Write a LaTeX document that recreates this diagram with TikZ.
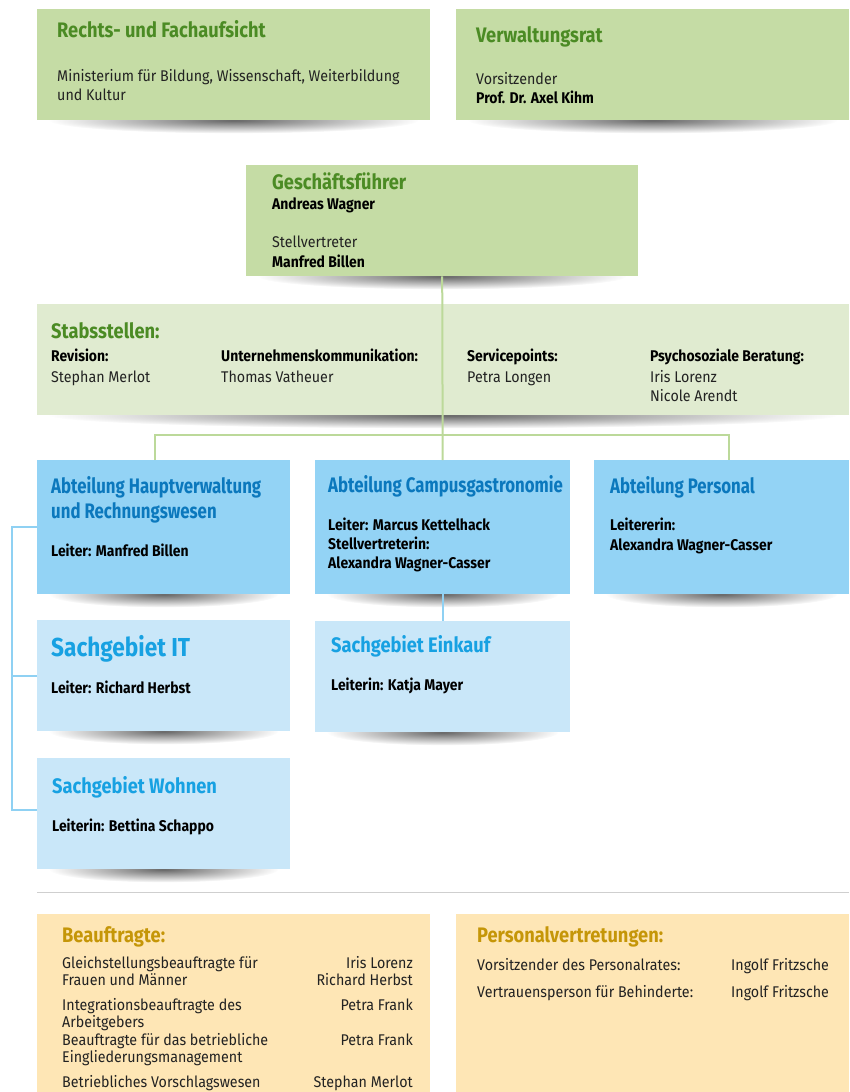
\documentclass[tikz,border=0pt]{standalone}
\usepackage{fontspec}
\setmainfont{Fira Sans}
\newfontfamily\orghead[FakeStretch=0.87]{Fira Sans}
\newfontfamily\orgheadn[FakeStretch=0.8]{Fira Sans}
\newfontfamily\orgname[FakeStretch=0.9]{Fira Sans}
\newfontfamily\orgbody[FakeStretch=0.92]{Fira Sans}
\usetikzlibrary{positioning,calc,backgrounds,fadings}
\definecolor{gfill}{HTML}{C5DCA5}
\definecolor{gtitle}{HTML}{4B8B24}
\definecolor{stabfill}{HTML}{E0EBD0}
\definecolor{gline}{HTML}{BCD99A}
\definecolor{bfill}{HTML}{93D3F5}
\definecolor{btitle}{HTML}{0B78BD}
\definecolor{sfill}{HTML}{C9E7F9}
\definecolor{stitle}{HTML}{17A1E2}
\definecolor{bline}{HTML}{8FD1F3}
\definecolor{ofill}{HTML}{FEE6B5}
\definecolor{otitle}{HTML}{C59608}
\definecolor{sepgray}{HTML}{CFCFCF}
\definecolor{bodytext}{HTML}{222222}
\tikzfading[name=shadowfade, inner color=transparent!40, outer color=transparent!100]
\tikzset{
	box/.style 2 args={rectangle,anchor=north west,inner sep=0pt,minimum width=#1pt,minimum height=#2pt},
	gbox/.style={fill=gfill},
	stabbox/.style={fill=stabfill},
	bbox/.style={fill=bfill},
	sbox/.style={fill=sfill},
	obox/.style={fill=ofill},
	titel/.style={anchor=base west,inner sep=0pt,font=\orghead\bfseries\fontsize{21}{24}\selectfont},
	gtitel/.style={titel,text=gtitle},
	btitel/.style={titel,text=btitle,font=\orgheadn\bfseries\fontsize{21}{24}\selectfont},
	stitel/.style={titel,text=stitle},
	otitel/.style={titel,text=otitle},
	info/.style={anchor=base west,inner sep=0pt,font=\orgbody\fontsize{15.5}{18}\selectfont,text=bodytext},
	infor/.style={info,anchor=base east},
	person/.style={anchor=base west,inner sep=0pt,font=\orgname\bfseries\fontsize{15.5}{18}\selectfont,text=black},
	gconn/.style={draw=gline,line width=2pt},
	bconn/.style={draw=bline,line width=2pt}
}
\begin{document}
\begin{tikzpicture}[x=1pt,y=-1pt]
	\useasboundingbox (0,0) rectangle (849,1092);
	% Aufsicht und Verwaltungsrat
	\node[box={393}{111},gbox] (aufsicht) at (37,9) {};
	\node[box={393}{111},gbox] (vrat) at (456,9) {};
	\node[gtitel] (auft) at (57,37) {Rechts- und Fachaufsicht};
	\node[info] (min) at (57,81) {Ministerium für Bildung, Wissenschaft, Weiterbildung};
	\node[info] (kul) at (57,100) {und Kultur};
	\node[gtitel] (vratt) at (476,42) {Verwaltungsrat};
	\node[info] (vors) at (476,84) {Vorsitzender};
	\node[person] (kihm) at (476,103) {Prof. Dr. Axel Kihm};

	% Geschaeftsfuehrung
	\node[box={392}{111},gbox] (gf) at (246,165) {};
	\node[gtitel] (gft) at (272,189) {Geschäftsführer};
	\node[person] (wagner) at (272,209) {Andreas Wagner};
	\node[info] (stv) at (272,247) {Stellvertreter};
	\node[person] (billen) at (272,267) {Manfred Billen};

	% Stabsstellen
	\node[box={812}{111},stabbox] (stab) at (37,304) {};
	\node[gtitel] (stabt) at (51,338) {Stabsstellen:};
	\node[person] (rev) at (51,361) {Revision:};
	\node[info] (merlot) at (51,382) {Stephan Merlot};
	\node[person] (uk) at (221,361) {Unternehmenskommunikation:};
	\node[info] (vatheuer) at (221,382) {Thomas Vatheuer};
	\node[person] (sp) at (467,361) {Servicepoints:};
	\node[info] (longen) at (467,382) {Petra Longen};
	\node[person] (psb) at (650,361) {Psychosoziale Beratung:};
	\node[info] (lorenz) at (650,382) {Iris Lorenz};
	\node[info] (arendt) at (650,401) {Nicole Arendt};

	% Abteilungen
	\node[box={253}{134},bbox] (haupt) at (37,460) {};
	\node[box={255}{134},bbox] (campus) at (315,460) {};
	\node[box={255}{134},bbox] (personal) at (594,460) {};
	\node[btitel] (hauptt) at (51,493) {Abteilung Hauptverwaltung};
	\node[btitel] (hauptt2) at (51,518) {und Rechnungswesen};
	\node[person] (hauptl) at (51,556) {Leiter: Manfred Billen};
	\node[btitel] (campust) at (328,492) {Abteilung Campusgastronomie};
	\node[person] (campusl) at (328,530) {Leiter: Marcus Kettelhack};
	\node[person] (campuss) at (328,549) {Stellvertreterin:};
	\node[person] (campusn) at (328,568) {Alexandra Wagner-Casser};
	\node[btitel] (perst) at (610,493) {Abteilung Personal};
	\node[person] (persl) at (610,530) {Leitererin:};
	\node[person] (persn) at (610,550) {Alexandra Wagner-Casser};

	% Sachgebiete
	\node[box={253}{111},sbox] (it) at (37,620) {};
	\node[box={255}{111},sbox] (einkauf) at (315,621) {};
	\node[box={253}{111},sbox] (wohnen) at (37,758) {};
	\node[stitel,font=\orghead\bfseries\fontsize{26}{29}\selectfont] (itt) at (51,656) {Sachgebiet IT};
	\node[person] (itl) at (51,693) {Leiter: Richard Herbst};
	\node[stitel] (einkt) at (331,652) {Sachgebiet Einkauf};
	\node[person] (einkl) at (331,690) {Leiterin: Katja Mayer};
	\node[stitel] (wohnt) at (52,793) {Sachgebiet Wohnen};
	\node[person] (wohnl) at (52,831) {Leiterin: Bettina Schappo};

	% Verbindungen
	\coordinate (gl) at (155,435);
	\coordinate (gr) at (729,435);
	\draw[gconn] (gf.south) -- (campus.north);
	\draw[gconn] (gl |- haupt.north) -- (gl) -- (gr) -- (gr |- personal.north);
	\draw[bconn] (campus.south) -- (einkauf.north);
	\coordinate (bt) at (12,527);
	\coordinate (bb) at (12,810);
	\draw[bconn] (haupt.west |- bt) -- (bt) -- (bb) -- (wohnen.west |- bb);
	\draw[bconn] (it.west) -- (bt |- it.west);

	\begin{scope}[on background layer]
		\foreach \b in {aufsicht,vrat,gf,stab,haupt,campus,personal,it,einkauf,wohnen}
			\fill[black,path fading=shadowfade] let \p1=($(\b.south east)-(\b.south west)$) in
				(\b.south) ellipse [x radius=0.5*\x1-12pt, y radius=13pt];
	\end{scope}

	\draw[sepgray,line width=1pt] (37,892) -- (849,892);

	% Beauftragte und Personalvertretungen
	\node[box={393}{178},obox] (beauf) at (37,914) {};
	\node[box={393}{178},obox] (pvert) at (456,914) {};
	\node[otitel] (beauft) at (62,942) {Beauftragte:};
	\node[info] (gb1) at (62,968) {Gleichstellungsbeauftragte für};
	\node[info] (gb2) at (62,985) {Frauen und Männer};
	\node[infor] (gbn1) at (413,968) {Iris Lorenz};
	\node[infor] (gbn2) at (413,985) {Richard Herbst};
	\node[info] (ib1) at (62,1010) {Integrationsbeauftragte des};
	\node[info] (ib2) at (62,1027) {Arbeitgebers};
	\node[infor] (ibn) at (413,1010) {Petra Frank};
	\node[info] (em1) at (62,1045) {Beauftragte für das betriebliche};
	\node[info] (em2) at (62,1062) {Eingliederungsmanagement};
	\node[infor] (emn) at (413,1045) {Petra Frank};
	\node[info] (vw) at (62,1087) {Betriebliches Vorschlagswesen};
	\node[infor] (vwn) at (413,1087) {Stephan Merlot};
	\node[otitel] (pvertt) at (477,942) {Personalvertretungen:};
	\node[info] (pr) at (477,970) {Vorsitzender des Personalrates:};
	\node[info] (prn) at (731,970) {Ingolf Fritzsche};
	\node[info] (vp) at (477,997) {Vertrauensperson für Behinderte:};
	\node[info] (vpn) at (731,997) {Ingolf Fritzsche};
\end{tikzpicture}
\end{document}
